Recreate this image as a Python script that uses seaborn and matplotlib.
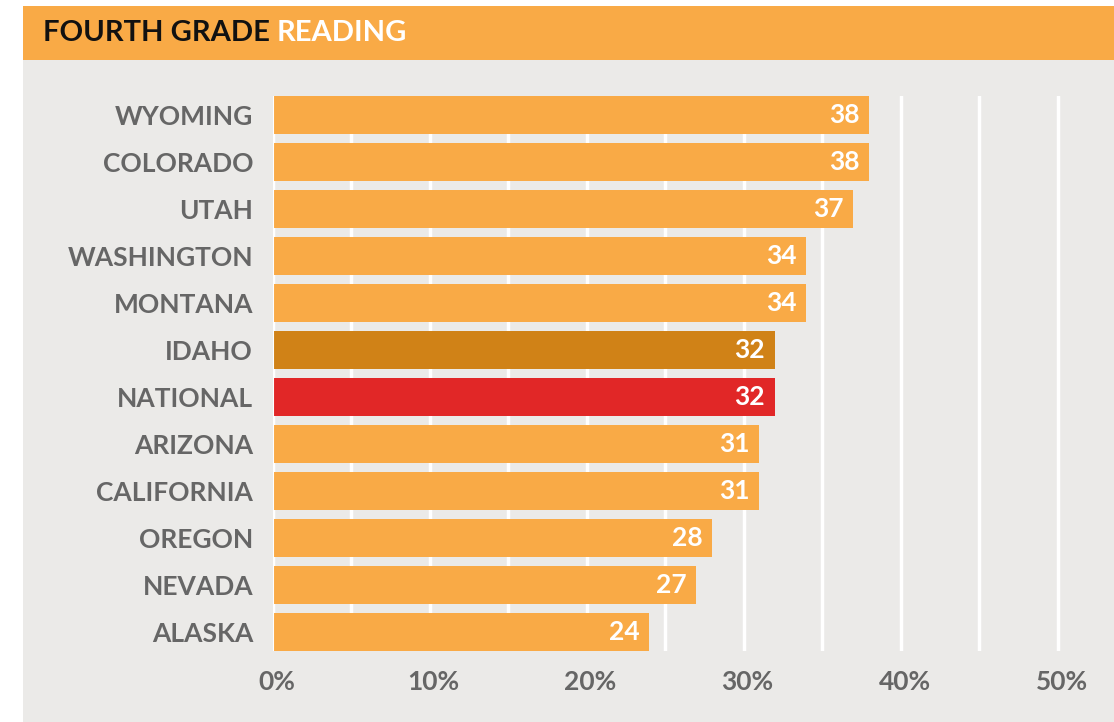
import matplotlib
matplotlib.use("Agg")
import matplotlib.pyplot as plt
import matplotlib.transforms as mtransforms
import seaborn as sns
import pandas as pd
from matplotlib.patches import Rectangle

states = ["WYOMING", "COLORADO", "UTAH", "WASHINGTON", "MONTANA", "IDAHO",
          "NATIONAL", "ARIZONA", "CALIFORNIA", "OREGON", "NEVADA", "ALASKA"]
values = [38, 38, 37, 34, 34, 32, 32, 31, 31, 28, 27, 24]
tick_values = [0, 10, 20, 30, 40, 50]
tick_labels = ["0%", "10%", "20%", "30%", "40%", "50%"]

ORANGE = "#F9AA46"
IDAHO_C = "#D08217"
NAT_C = "#E12727"
BG = "#EBEAE8"
GRAY = "#666666"

palette = {s: ORANGE for s in states}
palette["IDAHO"] = IDAHO_C
palette["NATIONAL"] = NAT_C

df = pd.DataFrame({"state": states, "value": values})

sns.set_theme(style="white")
plt.rcParams["font.family"] = ["Lato", "DejaVu Sans"]

W, H = 1114, 722
fig = plt.figure(figsize=(W / 100, H / 100), dpi=100)
fig.patch.set_facecolor("white")

# gray panel and title bar
fig.add_artist(Rectangle((23 / W, 0), 1 - 23 / W, (H - 60) / H,
                         transform=fig.transFigure, facecolor=BG, edgecolor="none", zorder=0))
fig.add_artist(Rectangle((23 / W, (H - 60) / H), 1 - 23 / W, 54 / H,
                         transform=fig.transFigure, facecolor=ORANGE, edgecolor="none", zorder=0))
t1 = fig.text(43 / W, (H - 33) / H, "FOURTH GRADE ", color="#111111", fontsize=21,
              fontweight="bold", va="center", ha="left")
fig.canvas.draw()
bb = t1.get_window_extent(renderer=fig.canvas.get_renderer())
fig.text(bb.x1 / W, (H - 33) / H, "READING", color="white", fontsize=21,
         fontweight="bold", va="center", ha="left")

left, right = 272.5, 1114
top, bottom = 96, 651
ax = fig.add_axes([left / W, (H - bottom) / H, (right - left) / W, (bottom - top) / H])
ax.set_facecolor("none")

sns.barplot(data=df, x="value", y="state", hue="state", palette=palette, legend=False,
            width=0.8, saturation=1, ax=ax, orient="h", zorder=2, linewidth=0)

ax.set_xlim(0, (right - left) / 15.7)
ax.set_ylim(len(states) - 0.6, -0.4)
ax.set_xticks(tick_values)
ax.set_xticklabels(tick_labels)
ax.set_xticks([5, 15, 25, 35, 45], minor=True)
ax.grid(True, axis="x", which="both", color="white", linewidth=2.5, zorder=0)
ax.set_axisbelow(True)
ax.axvline(0, color="white", linewidth=1.5, zorder=3)
for sp in ax.spines.values():
    sp.set_visible(False)
ax.tick_params(axis="both", which="both", length=0)
ax.tick_params(axis="x", pad=14, labelsize=19, labelcolor=GRAY)
ax.tick_params(axis="y", pad=14, labelsize=19, labelcolor=GRAY)
shift = mtransforms.ScaledTranslation(4 / 100, 0, fig.dpi_scale_trans)
for lab in ax.get_xticklabels():
    lab.set_fontweight("bold")
    lab.set_transform(lab.get_transform() + shift)
for lab in ax.get_yticklabels():
    lab.set_fontweight("bold")
ax.set_xlabel("")
ax.set_ylabel("")

for i, (s, v) in enumerate(zip(states, values)):
    ax.annotate(f"{v}", xy=(v, i), xytext=(-7, 0), textcoords="offset points",
                ha="right", va="center", color="white", fontsize=19, fontweight="bold", zorder=4)

fig.savefig("out.png", dpi=100, facecolor=fig.get_facecolor())
